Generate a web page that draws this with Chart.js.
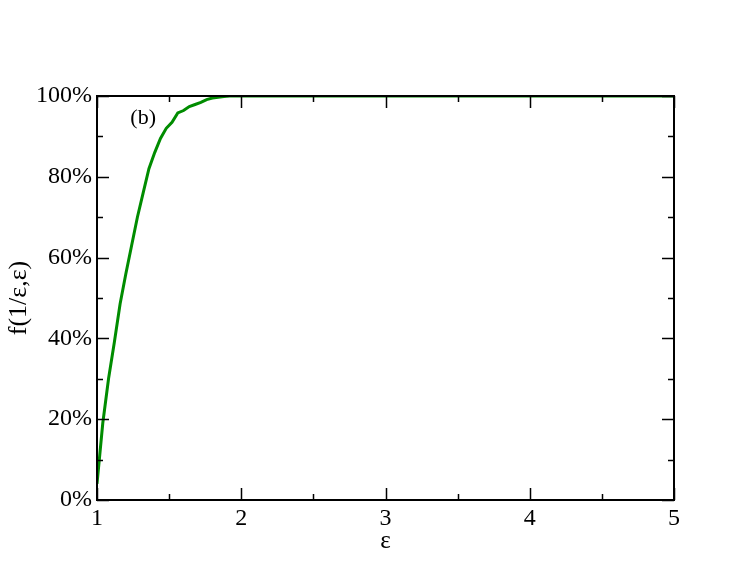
<!DOCTYPE html>
<html>
<head>
<meta charset="utf-8">
<script src="https://cdn.jsdelivr.net/npm/chart.js@4/dist/chart.umd.min.js"></script>
<style>
  html, body { margin: 0; padding: 0; background: #fff; }
</style>
</head>
<body>
<canvas id="chart" width="747" height="578"></canvas>
<script>
// data
const epsilon = [1.0, 1.04, 1.08, 1.12, 1.16, 1.2, 1.24, 1.28, 1.32, 1.36, 1.4, 1.44, 1.48, 1.52, 1.56, 1.6,
  1.64, 1.68, 1.72, 1.76, 1.8, 1.84, 1.88, 1.92, 2.0, 2.5, 3.0, 3.5, 4.0, 4.5, 5.0];
const fraction = [4, 19, 30, 39, 48.5, 56, 63, 70, 76, 82, 86, 89.5, 92, 93.5, 95.8, 96.4,
  97.4, 97.9, 98.4, 99.1, 99.5, 99.7, 99.9, 100, 100, 100, 100, 100, 100, 100, 100];
const xTicks = [1, 2, 3, 4, 5];
const yTicks = [0, 20, 40, 60, 80, 100];

const serif = "'Liberation Serif', 'DejaVu Serif', serif";

// box + inward ticks on all four sides, like the original plot
const framePlugin = {
  id: "frame",
  afterDraw(chart) {
    const { ctx, chartArea: a, scales } = chart;
    const xs = scales.x, ys = scales.y;
    ctx.save();
    ctx.strokeStyle = "#000";
    ctx.lineWidth = 1.5;
    ctx.beginPath();
    for (let v = 1; v <= 5.001; v += 0.5) {
      const px = Math.round(xs.getPixelForValue(v)) + 0.5;
      const len = Math.abs(v - Math.round(v)) < 1e-6 ? 12 : 6;
      ctx.moveTo(px, a.bottom); ctx.lineTo(px, a.bottom - len);
      ctx.moveTo(px, a.top); ctx.lineTo(px, a.top + len);
    }
    for (let v = 0; v <= 100.001; v += 10) {
      const py = Math.round(ys.getPixelForValue(v)) + 0.5;
      const len = v % 20 === 0 ? 12 : 6;
      ctx.moveTo(a.left, py); ctx.lineTo(a.left + len, py);
      ctx.moveTo(a.right, py); ctx.lineTo(a.right - len, py);
    }
    ctx.stroke();
    ctx.lineWidth = 2;
    ctx.strokeRect(a.left, a.top, a.right - a.left, a.bottom - a.top);
    // panel label
    ctx.fillStyle = "#000";
    ctx.font = "22px " + serif;
    ctx.textAlign = "center";
    ctx.textBaseline = "middle";
    ctx.fillText("(b)", xs.getPixelForValue(1.32), ys.getPixelForValue(94.5));
    ctx.restore();
  }
};

new Chart(document.getElementById("chart").getContext("2d"), {
  type: "line",
  data: {
    datasets: [{
      data: epsilon.map((e, i) => ({ x: e, y: fraction[i] })),
      borderColor: "#008c00",
      borderWidth: 3,
      pointRadius: 0,
      tension: 0,
      fill: false
    }]
  },
  options: {
    responsive: false,
    animation: false,
    layout: { padding: { top: 96, right: 73, left: 0, bottom: 0 } },
    plugins: { legend: { display: false }, tooltip: { enabled: false } },
    scales: {
      x: {
        type: "linear",
        min: 1,
        max: 5,
        afterBuildTicks: (s) => { s.ticks = xTicks.map((v) => ({ value: v })); },
        afterFit: (s) => { s.height = 78; },
        grid: { display: false, drawTicks: false },
        border: { display: false },
        ticks: { color: "#000", padding: 4, maxRotation: 0, font: { family: serif, size: 24 } },
        title: { display: true, text: "ε", color: "#000", padding: { top: 0, bottom: 22 }, font: { family: serif, size: 25 } }
      },
      y: {
        min: 0,
        max: 100,
        afterBuildTicks: (s) => { s.ticks = yTicks.map((v) => ({ value: v })); },
        afterFit: (s) => { s.width = 97; },
        grid: { display: false, drawTicks: false },
        border: { display: false },
        ticks: { color: "#000", padding: 5, font: { family: serif, size: 24 }, callback: (v) => v + "%" },
        title: { display: true, text: "f(1/ε,ε)", color: "#000", padding: { top: 4, bottom: 0 }, font: { family: serif, size: 26 } }
      }
    }
  },
  plugins: [framePlugin]
});
</script>
</body>
</html>
